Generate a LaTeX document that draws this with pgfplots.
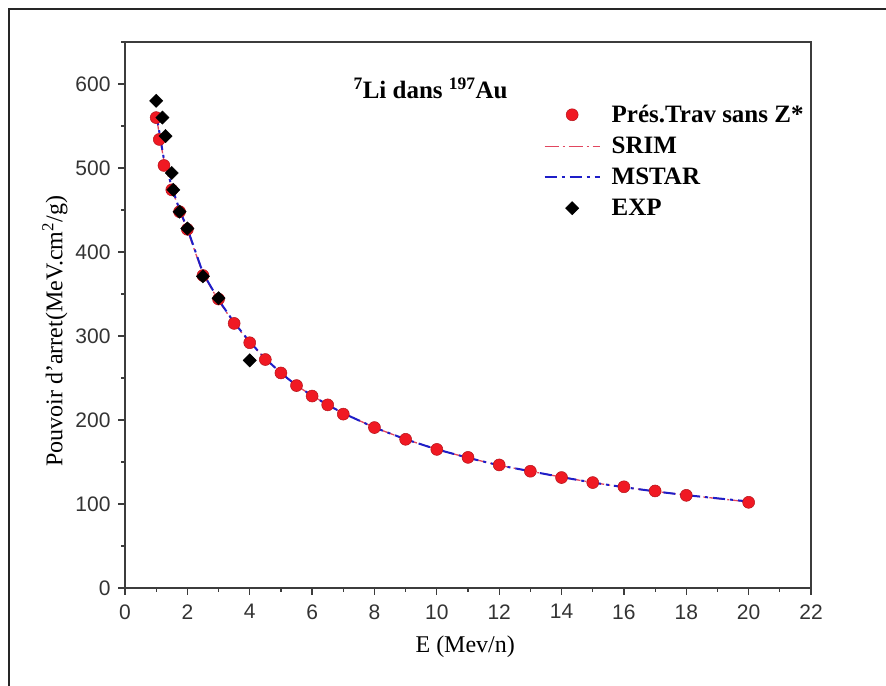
\documentclass[border=0pt]{standalone}
\usepackage{fontspec}
\setmainfont{Liberation Serif}
\newfontfamily\ticksans{Liberation Sans}
\usepackage{pgfplots}
\pgfplotsset{compat=1.18}

\definecolor{srimred}{RGB}{225,70,95}
\definecolor{mstarblue}{RGB}{30,30,200}
\definecolor{ptred}{RGB}{240,25,35}
\definecolor{axisgray}{RGB}{60,60,60}

% stopping power data (MeV cm^2/g) vs energy (MeV/n)
\pgfplotstableread{
E    S
1.0  560
1.1  534
1.25 503
1.5  474
1.75 448
2.0  427
2.5  372
3.0  344
3.5  315
4.0  292
4.5  272
5.0  256
5.5  241
6.0  228.5
6.5  218
7.0  207
8.0  191
9.0  177
10   165
11   155.5
12   146.5
13   139
14   131.5
15   125.5
16   120.5
17   115.5
18   110.3
20   102
}\prestrav

\pgfplotstableread{
E    S
1.0  562
1.25 508
1.5  476
1.75 449
2.0  426
2.5  374
3.0  342
3.5  315
4.0  292
4.5  273
5.0  256
5.5  241
6.0  229
6.5  218
7.0  208
8.0  191
9.0  177
10   165
11   155
12   146
13   139
14   132
15   125.5
16   120
17   115
18   110.5
20   102.5
}\srim

\pgfplotstableread{
E    S
1.0  565
1.25 510
1.5  478
1.75 450
2.0  428
2.5  375
3.0  343
3.5  316
4.0  293
4.5  273
5.0  256
5.5  241
6.0  229
6.5  218
7.0  208
8.0  191
9.0  177
10   165
11   155
12   146
13   139
14   132
15   125.5
16   120
17   115
18   110.5
20   103
}\mstar

\pgfplotstableread{
E    S
1.0  580
1.2  560
1.3  538
1.5  494
1.55 474
1.75 448
2.0  428
2.5  371
3.0  345
4.0  271
}\expdata

\begin{document}
\begin{tikzpicture}[x=1bp,y=1bp]
\useasboundingbox (0,0) rectangle (886,686);
\draw[line width=1.6bp, black!85] (9,0) -- (9,677) -- (886,677);
\begin{axis}[
  at={(125bp,98bp)}, anchor=south west,
  scale only axis, width=686bp, height=546bp,
  xmin=0, xmax=22, ymin=0, ymax=650,
  xtick={0,2,...,22}, ytick={0,100,...,600},
  minor xtick={1,3,...,21}, minor ytick={50,150,...,650},
  tick pos=left, tick align=outside,
  major tick length=7bp, minor tick length=4bp,
  axis line style={line width=1.5bp, axisgray},
  tick style={line width=1.2bp, axisgray},
  tick label style={font=\ticksans\fontsize{21bp}{24bp}\selectfont, text=black!80},
  xticklabel style={yshift=-6bp},
  yticklabel style={xshift=-4bp},
  /pgf/number format/assume math mode=true,
  xlabel={E (Mev/n)},
  ylabel={Pouvoir d'arret(MeV.cm\textsuperscript{2}/g)},
  label style={font=\fontsize{24bp}{28bp}\selectfont},
  xlabel style={at={(axis description cs:0.496,-0.108)}, anchor=center},
  ylabel style={at={(axis description cs:-0.102,0.47)}, anchor=center},
  legend style={at={(axis description cs:0.61,0.888)}, anchor=north west,
    draw=none, fill=none, font=\bfseries\fontsize{25bp}{29bp}\selectfont,
    row sep=9bp, column sep=9bp, inner sep=0pt},
  legend cell align=left,
  legend image code/.code={\draw[mark repeat=2,mark phase=2,#1]
    plot coordinates {(0bp,0bp) (27.5bp,0bp) (55bp,0bp)};},
]
\addplot[only marks, mark=*, mark size=6bp,
  mark options={fill=ptred, draw=ptred!75!black, line width=0.5bp}]
  table[x=E, y=S] {\prestrav};
\addlegendentry{Prés.Trav sans Z*}

\addplot[srimred, line width=1.3bp,
  dash pattern=on 14bp off 4bp on 2bp off 4bp]
  table[x=E, y=S] {\srim};
\addlegendentry{SRIM}

\addplot[mstarblue, line width=2bp,
  dash pattern=on 12bp off 5bp on 3bp off 5bp]
  table[x=E, y=S] {\mstar};
\addlegendentry{MSTAR}

\addplot[only marks, mark=square*, mark size=4.7bp,
  mark options={rotate=45, fill=black, draw=black}]
  table[x=E, y=S] {\expdata};
\addlegendentry{EXP}

\node[font=\bfseries\fontsize{25bp}{29bp}\selectfont, anchor=center]
  at (axis cs:9.8,595) {\textsuperscript{7}Li dans \textsuperscript{197}Au};
\end{axis}
\end{tikzpicture}
\end{document}
